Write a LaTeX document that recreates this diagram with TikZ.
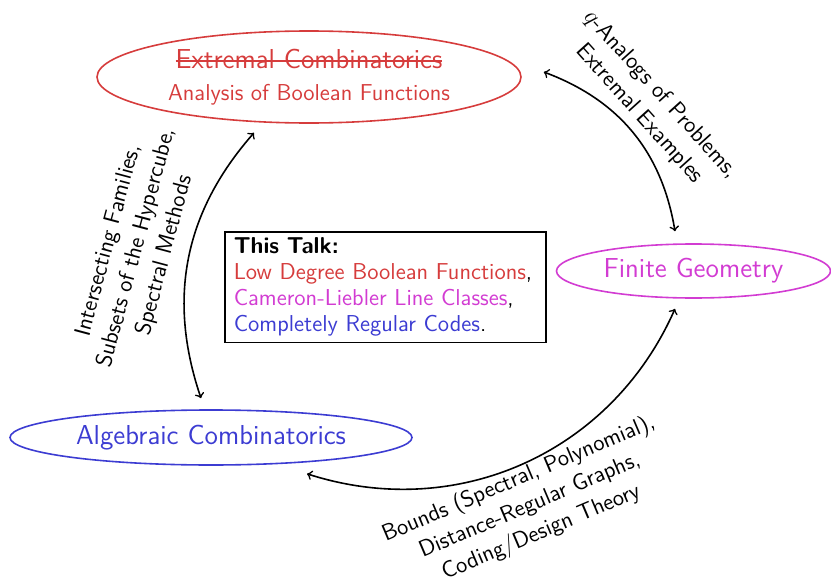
\documentclass[tikz,border=0pt]{standalone}
\usepackage{fontspec}
\usetikzlibrary{shapes.geometric,calc}
\renewcommand{\familydefault}{\sfdefault}

\definecolor{topicred}{RGB}{214,60,60}
\definecolor{topicmag}{RGB}{210,60,210}
\definecolor{topicblue}{RGB}{60,60,210}

\newcommand{\bigfont}{\fontsize{13.7}{16}\selectfont}
\newcommand{\smallfont}{\fontsize{11.5}{13}\selectfont}
\newcommand{\labelfont}{\fontsize{11.5}{14.5}\selectfont}
% struck-through text
\newsavebox{\strikebox}
\newcommand{\strikeout}[1]{\sbox{\strikebox}{#1}\rlap{\raisebox{0.55ex}{\rule{\wd\strikebox}{0.6pt}}}\usebox{\strikebox}}

\tikzset{
  area/.style={ellipse, draw, thick, inner sep=0pt, align=center},
  link/.style={<->, thick, black},
  topic/.style={align=center, font=\labelfont, inner sep=0pt},
}

\begin{document}
\begin{tikzpicture}[x=0.5pt, y=-0.5pt]
\useasboundingbox (0,0) rectangle (831,578);

% the three research areas
\node[area, draw=topicred, text=topicred, minimum width=212pt, minimum height=46pt] (ext) at (309,77)
  {{\bigfont\strikeout{Extremal Combinatorics}}\\[4pt]{\smallfont Analysis of Boolean Functions}};
\node[area, draw=topicmag, text=topicmag, font=\bigfont, minimum width=137pt, minimum height=27pt] (fg) at (693.5,271) {Finite Geometry};
\node[area, draw=topicblue, text=topicblue, font=\bigfont, minimum width=201pt, minimum height=27.5pt] (alg) at (211,437.5) {Algebraic Combinatorics};

% summary box
\node[draw, thick, anchor=north west, text width=151.5pt, inner xsep=4.5pt, inner ysep=3pt, align=left, font=\smallfont] (talk) at (224,231)
  {\textbf{This Talk:}\\
   \textcolor{topicred}{Low Degree Boolean Functions},\\
   \textcolor{topicmag}{Cameron-Liebler Line Classes},\\
   \textcolor{topicblue}{Completely Regular Codes}.};

% connections between the areas, ending just off the ellipses
\draw[link] ($(alg.north)+(-10,-11)$) to[bend left=30] ($(ext.south)+(-55,9)$);
\draw[link] ($(ext.east)+(22,-5)$) to[bend left=30] ($(fg.north)+(-18.5,-12)$);
\draw[link] ($(fg.south)+(-18.5,10)$) to[bend left=42] ($(alg.south)+(96,8)$);

% edge labels
\node[topic, rotate=75] (lleft) at (137,248) {Intersecting Families,\\Subsets of the Hypercube,\\Spectral Methods};
\node[topic, rotate=-48] (lright) at (650,104) {$q$-Analogs of Problems,\\Extremal Examples};
\node[topic, rotate=23] (lbottom) at (530,506) {Bounds (Spectral, Polynomial),\\Distance-Regular Graphs,\\Coding/Design Theory};
\end{tikzpicture}
\end{document}
